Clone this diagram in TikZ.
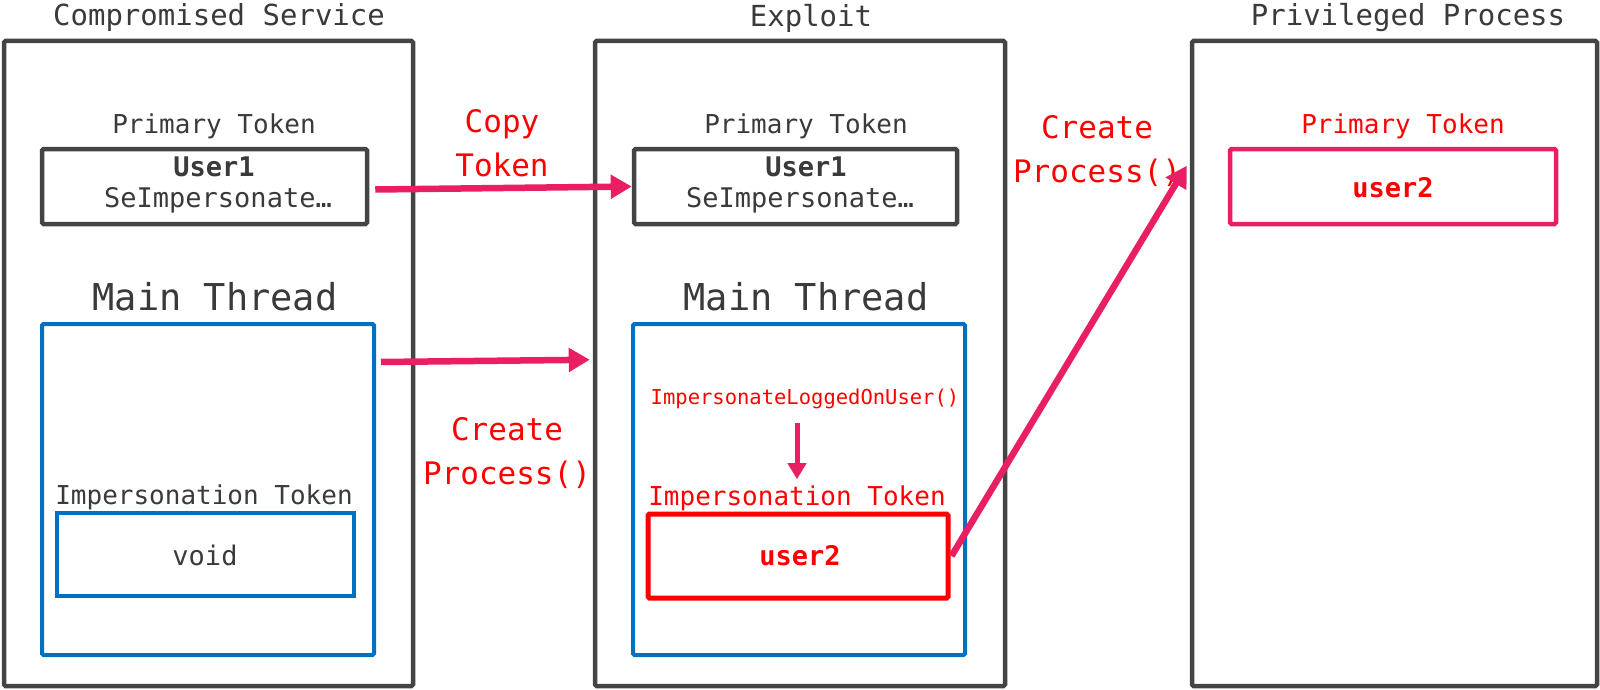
\documentclass[tikz,border=0pt]{standalone}
\usepackage{fontspec}
\setmainfont{DejaVu Sans Mono}
\usetikzlibrary{arrows.meta}
\definecolor{dgray}{HTML}{444444}
\definecolor{tgray}{HTML}{3A3A3A}
\definecolor{mblue}{HTML}{0070C0}
\definecolor{mred}{HTML}{FF0000}
\definecolor{mpink}{HTML}{E91E63}
\begin{document}
\begin{tikzpicture}[x=1pt,y=-1pt,
  outerbox/.style={draw=dgray,line width=4.5pt,inner sep=0pt,rounded corners=1.5pt},
  tokbox/.style={draw=dgray,line width=4.5pt,inner sep=0pt,rounded corners=1.5pt,minimum width=325pt,minimum height=75pt},
  thrbox/.style={draw=mblue,line width=4pt,inner sep=0pt,rounded corners=1.5pt,minimum width=332pt,minimum height=331pt},
  title/.style={text=tgray,inner sep=0pt,font=\fontsize{29}{34}\selectfont},
  lbl/.style={text=tgray,inner sep=0pt,font=\fontsize{26}{31}\selectfont},
  rlbl/.style={text=mred,inner sep=0pt,font=\fontsize{26}{31}\selectfont},
  tok/.style={text=tgray,inner sep=0pt,font=\fontsize{27}{32}\selectfont},
  big/.style={text=tgray,inner sep=0pt,font=\fontsize{37}{44}\selectfont},
  act/.style={text=mred,inner sep=0pt,align=center,font=\fontsize{31}{44}\selectfont},
  arr/.style={draw=mpink,line width=6.5pt,-{Triangle[length=21pt,width=23pt]}}
]
\useasboundingbox (0,0) rectangle (1600,690);
% outer boxes
\node[outerbox,minimum width=409pt,minimum height=645pt] (cs) at (208.5,363.5) {};
\node[outerbox,minimum width=410pt,minimum height=645pt] (ex) at (800,363.5) {};
\node[outerbox,minimum width=405pt,minimum height=645pt] (pp) at (1394.5,363.5) {};
\node[title] (t1) at (219,18) {Compromised Service};
\node[title] (t2) at (811,18) {Exploit};
\node[title] (t3) at (1408,18) {Privileged Process};
% box 1
\node[lbl] (pl1) at (214,126) {Primary Token};
\node[tokbox] (pt1) at (204.5,186.5) {};
\node[tok] (u1) at (214,167) {\bfseries User1};
\node[tok] (s1) at (218,200) {SeImpersonate…};
\node[big] (m1) at (215,297) {Main Thread};
\node[thrbox] (mt1) at (208,489.5) {};
\node[lbl] (il1) at (204,497) {Impersonation Token};
\node[draw=mblue,line width=4pt,inner sep=0pt,minimum width=297pt,minimum height=83pt] (vb) at (205.5,554.5) {};
\node[tok] (v) at (205,555) {void};
% box 2
\node[lbl] (pl2) at (806,126) {Primary Token};
\node[tokbox,minimum width=323pt] (pt2) at (795.5,186.5) {};
\node[tok] (u2) at (806,167) {\bfseries User1};
\node[tok] (s2) at (800,200) {SeImpersonate…};
\node[big] (m2) at (806,297) {Main Thread};
\node[thrbox] (mt2) at (799,489.5) {};
\node[text=mred,inner sep=0pt,font=\fontsize{20.5}{24}\selectfont] (ilou) at (805,399) {ImpersonateLoggedOnUser()};
\node[rlbl] (il2) at (797,498) {Impersonation Token};
\node[draw=mred,line width=5pt,inner sep=0pt,rounded corners=1.5pt,minimum width=300pt,minimum height=84pt] (ut) at (798,556) {};
\node[text=mred,inner sep=0pt,font=\fontsize{27}{32}\selectfont\bfseries] (u2t) at (800,556) {user2};
% box 3
\node[rlbl] (pl3) at (1403,126) {Primary Token};
\node[draw=mpink,line width=4.5pt,inner sep=0pt,rounded corners=1.5pt,minimum width=326pt,minimum height=75pt] (pt3) at (1393,186.5) {};
\node[text=mred,inner sep=0pt,font=\fontsize{27}{32}\selectfont\bfseries] (u3) at (1393,188) {user2};
% action labels
\node[act] (cp) at (502,143) {Copy\\Token};
\node[act] (cr1) at (507,453) {Create\\Process()};
\node[act] (cr2) at (1097,151.5) {Create\\Process()};
% arrows
\draw[arr] ([shift={(6,3)}]pt1.east) -- (pt2.west);
\draw[arr] ([shift={(5,40)}]mt1.north east) -- ([shift={(-3,321)}]ex.north west);
\draw[arr] ([shift={(1,0)}]ut.east) -- ([shift={(-3,127)}]pp.north west);
\draw[arr,line width=5pt,-{Triangle[length=16pt,width=18pt]}] ([shift={(-8,14)}]ilou.south) -- ([shift={(0,-6)}]il2.north);
\end{tikzpicture}
\end{document}
